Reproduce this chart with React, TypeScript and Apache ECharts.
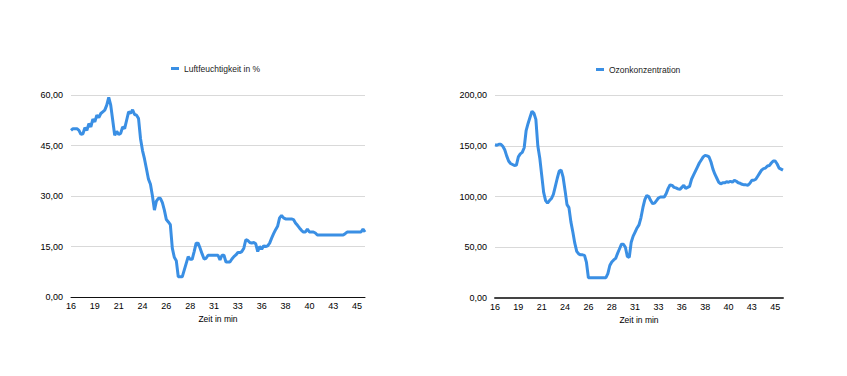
import React, { useEffect, useRef } from "react";
import * as echarts from "echarts";

// Sampling times in minutes (one sample every 0.2 min, starting at 16.4)
const tickLabels = ["16", "19", "21", "24", "26", "28", "31", "33", "36", "38", "40", "43", "45"];

const humidity = [
  49.5, 50, 50, 50, 49.5, 48.3, 48.5, 50.3, 49.5, 51.5,
  50.5, 52.8, 52, 54, 53.3, 54.5, 55, 55.5, 57, 59.3,
  57, 52.5, 48, 49.2, 48.3, 48.6, 50.5, 50, 52.5, 55,
  54.6, 55.6, 54.2, 54, 53, 47, 43.5, 41, 38, 35,
  33.5, 30, 25.8, 28.5, 29.3, 29.3, 28, 25.8, 23, 22.3,
  21.5, 14.5, 11.8, 10.8, 6, 6, 6, 8, 10, 12,
  11.2, 11.2, 13.5, 16, 16, 14.5, 12.8, 11.3, 11.5, 12.4,
  12.4, 12.4, 12.4, 12.4, 12.4, 11, 12.4, 12.4, 10.4, 10.4,
  10.4, 11.3, 12, 12.5, 13.2, 13.2, 13.5, 14.5, 17, 16.8,
  16.2, 16, 16.2, 15.8, 13.5, 15, 14.2, 15.2, 15, 15.2,
  16, 17.5, 18.8, 20, 21, 23.5, 24.2, 23.5, 23.2, 23.2,
  23.2, 23.2, 23, 22, 21.3, 20.5, 19.8, 19.3, 19.3, 20.2,
  19.3, 19.3, 19.3, 19, 18.4, 18.4, 18.4, 18.4, 18.4, 18.4,
  18.4, 18.4, 18.4, 18.4, 18.4, 18.4, 18.4, 18.4, 18.8, 19.3,
  19.3, 19.3, 19.3, 19.3, 19.3, 19.3, 19.3, 20.2, 19.3,
];

const ozone = [
  151, 150.5, 151.5, 151.5, 149.5, 146, 140, 135, 132.5, 131.5,
  130.5, 131, 139, 142, 143.5, 148, 165, 172, 178, 184,
  182, 176, 150, 138, 121, 104, 96, 93.5, 96, 98,
  102, 110, 118, 125, 126, 119, 106, 92, 89, 75,
  65, 54, 46, 43.5, 42.5, 42.5, 42, 35, 20, 20,
  20, 20, 20, 20, 20, 20, 20, 20, 24, 32,
  35.5, 37.5, 39, 44, 48.5, 53, 53, 50, 41, 40,
  55, 61, 65, 69, 72, 79, 89, 97, 101, 100,
  96, 93, 93.5, 96, 98.5, 99.5, 99.5, 99.5, 103, 108,
  111.5, 111, 109, 108.5, 107.5, 107, 109, 111, 108, 109,
  110, 117, 121, 125, 129, 133, 136, 139, 140.5, 140,
  139, 134, 127, 122, 118, 114, 112.5, 113.5, 113.5, 114.5,
  114, 115, 114, 116, 115, 113.5, 113, 112, 111.5, 111.5,
  111, 113, 116, 116, 117, 120, 123, 126, 127.5, 128,
  130, 130.5, 133, 135, 135, 132, 128, 127, 126,
];

const times = humidity.map((_, i) => (16.4 + i * 0.2).toFixed(1));

const FONT = "'Liberation Sans', Arial, Helvetica, sans-serif";
const LINE_COLOR = "#3a8fe4";

const fmtY = (v: number) => v.toFixed(2).replace(".", ",");

export default function App() {
  const ref = useRef<HTMLDivElement>(null);
  useEffect(() => {
    if (!ref.current) return;
    const chart = echarts.init(ref.current, undefined, { renderer: "svg" });

    const xAxisBase = (gridIndex: number, lineColor: string, lineWidth: number) => ({
      type: "category" as const,
      gridIndex,
      data: times,
      boundaryGap: false,
      axisTick: { show: false },
      axisLine: { show: true, lineStyle: { color: lineColor, width: lineWidth } },
      axisLabel: {
        interval: 11,
        margin: 4,
        color: "#000",
        fontSize: 9,
        fontFamily: FONT,
        formatter: (_v: string, idx: number) => tickLabels[idx / 12] ?? "",
      },
      name: "Zeit in min",
      nameLocation: "middle" as const,
      nameGap: 16,
      nameTextStyle: { color: "#000", fontSize: 8.5, fontFamily: FONT },
      splitLine: { show: false },
    });

    const yAxisBase = (gridIndex: number, max: number, interval: number) => ({
      type: "value" as const,
      gridIndex,
      min: 0,
      max,
      interval,
      axisLine: { show: false },
      axisTick: { show: false },
      axisLabel: {
        margin: 8,
        color: "#000",
        fontSize: 9,
        fontFamily: FONT,
        formatter: fmtY,
      },
      splitLine: { show: true, lineStyle: { color: "#d9d9d9", width: 1 } },
    });

    chart.setOption({
      animation: false,
      backgroundColor: "#fff",
      legend: [
        {
          data: ["Luftfeuchtigkeit in %"],
          left: 166,
          top: 59,
          icon: "rect",
          itemWidth: 8,
          itemHeight: 3,
          textStyle: { color: "#222", fontSize: 8.5, fontFamily: FONT },
        },
        {
          data: ["Ozonkonzentration"],
          left: 591,
          top: 60,
          icon: "rect",
          itemWidth: 8,
          itemHeight: 3,
          textStyle: { color: "#222", fontSize: 8.5, fontFamily: FONT },
        },
      ],
      grid: [
        { left: 71, top: 95, width: 294, height: 202 },
        { left: 495, top: 95, width: 288, height: 203 },
      ],
      xAxis: [xAxisBase(0, "#111", 1), xAxisBase(1, "#444", 2)],
      yAxis: [yAxisBase(0, 60, 15), yAxisBase(1, 200, 50)],
      series: [
        {
          name: "Luftfeuchtigkeit in %",
          type: "line",
          xAxisIndex: 0,
          yAxisIndex: 0,
          data: humidity,
          showSymbol: false,
          symbol: "none",
          lineStyle: { color: LINE_COLOR, width: 3 },
          itemStyle: { color: LINE_COLOR },
        },
        {
          name: "Ozonkonzentration",
          type: "line",
          xAxisIndex: 1,
          yAxisIndex: 1,
          data: ozone,
          showSymbol: false,
          symbol: "none",
          lineStyle: { color: LINE_COLOR, width: 3 },
          itemStyle: { color: LINE_COLOR },
        },
      ],
    });
    return () => chart.dispose();
  }, []);

  return (
    <div
      ref={ref}
      style={{ position: "fixed", left: 0, top: 0, width: 847, height: 376, background: "#fff" }}
    />
  );
}
